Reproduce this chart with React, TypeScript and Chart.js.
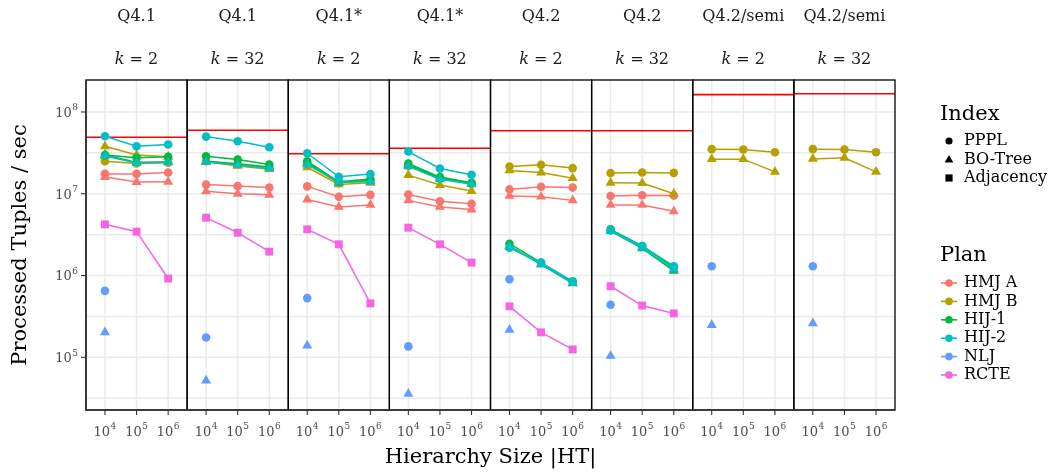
import React, { useEffect, useRef } from "react";
import { Chart, registerables } from "chart.js";
Chart.register(...registerables);

// ---- data ----
const facetQuery = ["Q4.1", "Q4.1", "Q4.1*", "Q4.1*", "Q4.2", "Q4.2", "Q4.2/semi", "Q4.2/semi"];
const facetK = ["2", "32", "2", "32", "2", "32", "2", "32"];
const sizeExponents = ["4", "5", "6"];
const yTickExponents = ["5", "6", "7", "8"];
const baseline = [4.9e7, 5.97e7, 3.08e7, 3.6e7, 5.9e7, 5.9e7, 1.63e8, 1.67e8];

const N = null;
const hmjA_PPPL = [1.75e7, 1.75e7, 1.82e7, 1.3e7, 1.24e7, 1.19e7, 1.23e7, 9.2e6, 9.7e6, 9.8e6, 8.1e6, 7.55e6, 1.13e7, 1.22e7, 1.19e7, 9.4e6, 9.6e6, 9.5e6, N, N, N, N, N, N];
const hmjA_BO = [1.6e7, 1.39e7, 1.4e7, 1.07e7, 1.0e7, 9.7e6, 8.5e6, 6.9e6, 7.3e6, 8.3e6, 6.9e6, 6.4e6, 9.4e6, 9.2e6, 8.3e6, 7.3e6, 7.3e6, 6.1e6, N, N, N, N, N, N];
const hmjB_PPPL = [2.5e7, 2.34e7, 2.39e7, 2.5e7, 2.28e7, 2.08e7, 2.32e7, 1.35e7, 1.47e7, 2.19e7, 1.54e7, 1.32e7, 2.15e7, 2.26e7, 2.06e7, 1.79e7, 1.82e7, 1.8e7, 3.51e7, 3.47e7, 3.22e7, 3.51e7, 3.47e7, 3.22e7];
const hmjB_BO = [3.81e7, 2.97e7, 2.83e7, 2.46e7, 2.19e7, 2.0e7, 2.11e7, 1.3e7, 1.36e7, 1.69e7, 1.28e7, 1.08e7, 1.93e7, 1.82e7, 1.55e7, 1.36e7, 1.35e7, 1.0e7, 2.65e7, 2.65e7, 1.85e7, 2.67e7, 2.75e7, 1.85e7];
const hij1_PPPL = [2.97e7, 2.75e7, 2.83e7, 2.88e7, 2.62e7, 2.28e7, 2.5e7, 1.4e7, 1.52e7, 2.34e7, 1.6e7, 1.36e7, 2.45e6, 1.44e6, 8.4e5, 3.67e6, 2.3e6, 1.25e6, N, N, N, N, N, N];
const hij1_BO = [3.0e7, 2.42e7, 2.45e7, 2.5e7, 2.32e7, 2.12e7, 2.39e7, 1.37e7, 1.43e7, 2.24e7, 1.57e7, 1.32e7, 2.3e6, 1.37e6, 8.0e5, 3.5e6, 2.15e6, 1.14e6, N, N, N, N, N, N];
const hij2_PPPL = [5.05e7, 3.81e7, 4.0e7, 5.0e7, 4.39e7, 3.7e7, 3.13e7, 1.61e7, 1.74e7, 3.28e7, 2.04e7, 1.71e7, 2.19e6, 1.43e6, 8.5e5, 3.57e6, 2.3e6, 1.3e6, N, N, N, N, N, N];
const hij2_BO = [2.9e7, 2.38e7, 2.42e7, 2.45e7, 2.25e7, 2.05e7, 2.28e7, 1.4e7, 1.4e7, 2.17e7, 1.5e7, 1.32e7, 2.24e6, 1.37e6, 8.1e5, 3.5e6, 2.19e6, 1.19e6, N, N, N, N, N, N];
const nlj_PPPL = [6.5e5, N, N, 1.75e5, N, N, 5.3e5, N, N, 1.36e5, N, N, 9.0e5, N, N, 4.39e5, N, N, 1.3e6, N, N, 1.3e6, N, N];
const nlj_BO = [2.02e5, N, N, 5.2e4, N, N, 1.39e5, N, N, 3.57e4, N, N, 2.17e5, N, N, 1.04e5, N, N, 2.48e5, N, N, 2.6e5, N, N];
const rcte_Adj = [4.23e6, 3.44e6, 9.2e5, 5.1e6, 3.34e6, 1.96e6, 3.67e6, 2.41e6, 4.56e5, 3.85e6, 2.41e6, 1.44e6, 4.2e5, 2.02e5, 1.25e5, 7.4e5, 4.3e5, 3.44e5, N, N, N, N, N, N];

const planNames = ["HMJ A", "HMJ B", "HIJ-1", "HIJ-2", "NLJ", "RCTE"];
const planColors = ["#F8766D", "#B79F00", "#00BA38", "#00BFC4", "#619CFF", "#F564E3"];
const indexNames = ["PPPL", "BO-Tree", "Adjacency"];
const indexStyles = ["circle", "triangle", "rect"];
const indexRadius = [4.3, 5.8, 5.6];

const series = [
  { plan: 0, index: 0, values: hmjA_PPPL },
  { plan: 0, index: 1, values: hmjA_BO },
  { plan: 1, index: 0, values: hmjB_PPPL },
  { plan: 1, index: 1, values: hmjB_BO },
  { plan: 2, index: 0, values: hij1_PPPL },
  { plan: 2, index: 1, values: hij1_BO },
  { plan: 3, index: 0, values: hij2_PPPL },
  { plan: 3, index: 1, values: hij2_BO },
  { plan: 4, index: 0, values: nlj_PPPL },
  { plan: 4, index: 1, values: nlj_BO },
  { plan: 5, index: 2, values: rcte_Adj },
];

// ---- layout ----
const W = 1051, H = 475;
const AREA = { left: 86, right: 895, top: 80, bottom: 410 };
const FACET_W = 3.2; // units per facet (3 categories + expansion)
const FONT = '"DejaVu Serif", "Liberation Serif", serif';

function catX(f: number, j: number) {
  return f * FACET_W + 0.6 + j;
}

function drawPow(ctx: CanvasRenderingContext2D, x: number, y: number, exp: string, align: "center" | "right", bs: number, ss: number) {
  ctx.font = `${bs}px ${FONT}`;
  const wb = ctx.measureText("10").width;
  ctx.font = `${ss}px ${FONT}`;
  const ws = ctx.measureText(exp).width;
  const total = wb + ws + 0.5;
  const left = align === "center" ? x - total / 2 : x - total;
  ctx.textAlign = "left";
  ctx.textBaseline = "middle";
  ctx.font = `${bs}px ${FONT}`;
  ctx.fillText("10", left, y + 1.5);
  ctx.font = `${ss}px ${FONT}`;
  ctx.fillText(exp, left + wb + 0.5, y - 4);
}

function drawMarker(ctx: CanvasRenderingContext2D, style: string, x: number, y: number, r: number, color: string) {
  ctx.save();
  ctx.fillStyle = color;
  ctx.beginPath();
  if (style === "circle") {
    ctx.arc(x, y, r, 0, Math.PI * 2);
  } else if (style === "triangle") {
    ctx.moveTo(x, y - r);
    ctx.lineTo(x + r * 0.866, y + r * 0.5);
    ctx.lineTo(x - r * 0.866, y + r * 0.5);
    ctx.closePath();
  } else {
    const s = r * 0.75;
    ctx.rect(x - s, y - s, 2 * s, 2 * s);
  }
  ctx.fill();
  ctx.restore();
}

const facetPlugin = {
  id: "facetPlugin",
  beforeDatasetsDraw(chart: any) {
    const ctx: CanvasRenderingContext2D = chart.ctx;
    const xs = chart.scales.x, ys = chart.scales.y;
    const a = chart.chartArea;
    ctx.save();
    ctx.strokeStyle = "#EBEBEB";
    ctx.lineWidth = 1.5;
    for (let e = 4; e <= 8.5; e += 0.5) {
      const y = ys.getPixelForValue(Math.pow(10, e));
      if (y < a.top || y > a.bottom) continue;
      ctx.beginPath();
      ctx.moveTo(a.left, y);
      ctx.lineTo(a.right, y);
      ctx.stroke();
    }
    for (let f = 0; f < 8; f++) {
      for (let j = 0; j < 3; j++) {
        const x = xs.getPixelForValue(catX(f, j));
        ctx.beginPath();
        ctx.moveTo(x, a.top);
        ctx.lineTo(x, a.bottom);
        ctx.stroke();
      }
    }
    ctx.restore();
  },
  afterDatasetsDraw(chart: any) {
    const ctx: CanvasRenderingContext2D = chart.ctx;
    const xs = chart.scales.x, ys = chart.scales.y;
    const a = chart.chartArea;
    ctx.save();
    // panel borders
    ctx.strokeStyle = "#000";
    ctx.lineWidth = 1.3;
    for (let f = 0; f < 8; f++) {
      const l = xs.getPixelForValue(f * FACET_W);
      const r = xs.getPixelForValue((f + 1) * FACET_W);
      ctx.strokeRect(l, a.top, r - l, a.bottom - a.top);
    }
    // axis lines
    ctx.strokeStyle = "#333";
    ctx.lineWidth = 1.6;
    ctx.beginPath();
    ctx.moveTo(a.left, a.top);
    ctx.lineTo(a.left, a.bottom);
    ctx.lineTo(a.right, a.bottom);
    ctx.stroke();
    // ticks
    ctx.lineWidth = 1.1;
    ctx.strokeStyle = "#333";
    ctx.fillStyle = "#4D4D4D";
    for (const e of yTickExponents) {
      const y = ys.getPixelForValue(Math.pow(10, Number(e)));
      ctx.beginPath();
      ctx.moveTo(a.left - 5, y);
      ctx.lineTo(a.left, y);
      ctx.stroke();
      drawPow(ctx, a.left - 8, y, e, "right", 13, 9);
    }
    for (let f = 0; f < 8; f++) {
      for (let j = 0; j < 3; j++) {
        const x = xs.getPixelForValue(catX(f, j));
        ctx.beginPath();
        ctx.moveTo(x, a.bottom);
        ctx.lineTo(x, a.bottom + 5);
        ctx.stroke();
        drawPow(ctx, x, 431, sizeExponents[j], "center", 13, 9);
      }
    }
    // strips
    ctx.fillStyle = "#1A1A1A";
    ctx.textBaseline = "middle";
    for (let f = 0; f < 8; f++) {
      const cx = (xs.getPixelForValue(f * FACET_W) + xs.getPixelForValue((f + 1) * FACET_W)) / 2;
      ctx.textAlign = "center";
      ctx.font = `16px ${FONT}`;
      ctx.fillText(facetQuery[f], cx, 17);
      ctx.font = `italic 16px ${FONT}`;
      const wk = ctx.measureText("k").width;
      ctx.font = `16px ${FONT}`;
      const rest = " = " + facetK[f];
      const wr = ctx.measureText(rest).width;
      const left = cx - (wk + wr) / 2;
      ctx.textAlign = "left";
      ctx.font = `italic 16px ${FONT}`;
      ctx.fillText("k", left, 60);
      ctx.font = `16px ${FONT}`;
      ctx.fillText(rest, left + wk, 60);
    }
    // axis titles
    ctx.fillStyle = "#000";
    ctx.font = `21px ${FONT}`;
    ctx.textAlign = "center";
    ctx.textBaseline = "middle";
    ctx.fillText("Hierarchy Size |HT|", (a.left + a.right) / 2, 458);
    ctx.save();
    ctx.translate(21, (a.top + a.bottom) / 2);
    ctx.rotate(-Math.PI / 2);
    ctx.fillText("Processed Tuples / sec", 0, 0);
    ctx.restore();
    // legends
    ctx.textAlign = "left";
    ctx.fillStyle = "#000";
    ctx.font = `21px ${FONT}`;
    ctx.fillText("Index", 940, 115);
    ctx.font = `16px ${FONT}`;
    const idxY = [141, 160, 178];
    for (let i = 0; i < 3; i++) {
      ctx.fillStyle = "#000";
      ctx.fillText(indexNames[i], 964, idxY[i]);
      const r = i === 0 ? 3.6 : i === 1 ? 5 : 4.8;
      drawMarker(ctx, indexStyles[i], 949, idxY[i], r, "#000");
    }
    ctx.font = `21px ${FONT}`;
    ctx.fillStyle = "#000";
    ctx.fillText("Plan", 940, 256);
    ctx.font = `16px ${FONT}`;
    for (let p = 0; p < 6; p++) {
      const y = 283 + p * 18.4;
      ctx.strokeStyle = planColors[p];
      ctx.lineWidth = 1.6;
      ctx.beginPath();
      ctx.moveTo(941, y);
      ctx.lineTo(957, y);
      ctx.stroke();
      drawMarker(ctx, "circle", 949, y, 3.8, planColors[p]);
      ctx.fillStyle = "#000";
      ctx.fillText(planNames[p], 964, y);
    }
    ctx.restore();
  },
};

function buildPoints(values: (number | null)[]) {
  const pts: { x: number; y: number | null }[] = [];
  for (let f = 0; f < 8; f++) {
    for (let j = 0; j < 3; j++) {
      pts.push({ x: catX(f, j), y: values[f * 3 + j] });
    }
    pts.push({ x: (f + 1) * FACET_W - 0.01, y: null });
  }
  return pts;
}

function buildBaseline() {
  const pts: { x: number; y: number | null }[] = [];
  for (let f = 0; f < 8; f++) {
    pts.push({ x: f * FACET_W, y: baseline[f] });
    pts.push({ x: (f + 1) * FACET_W, y: baseline[f] });
    pts.push({ x: (f + 1) * FACET_W + 0.001, y: null });
  }
  return pts;
}

export default function App() {
  const ref = useRef<HTMLCanvasElement>(null);
  useEffect(() => {
    if (!ref.current) return;
    const datasets: any[] = series.map((s) => ({
      label: planNames[s.plan] + " " + indexNames[s.index],
      data: buildPoints(s.values),
      borderColor: planColors[s.plan],
      backgroundColor: planColors[s.plan],
      pointBackgroundColor: planColors[s.plan],
      pointBorderWidth: 0,
      pointStyle: indexStyles[s.index],
      pointRadius: indexRadius[s.index],
      borderWidth: 1.5,
      tension: 0,
      spanGaps: false,
      order: 10 - s.plan,
    }));
    datasets.push({
      label: "baseline",
      data: buildBaseline(),
      borderColor: "#FF0000",
      borderWidth: 1.6,
      pointRadius: 0,
      spanGaps: false,
      order: 20,
    });
    const chart = new Chart(ref.current, {
      type: "line",
      data: { datasets },
      options: {
        animation: false,
        responsive: true,
        maintainAspectRatio: false,
        events: [],
        layout: { padding: { left: AREA.left, right: W - AREA.right, top: AREA.top, bottom: H - AREA.bottom } },
        scales: {
          x: { type: "linear", min: 0, max: 8 * FACET_W, display: false },
          y: { type: "logarithmic", min: 22700, max: 2.46e8, display: false },
        },
        plugins: { legend: { display: false }, tooltip: { enabled: false } },
      },
      plugins: [facetPlugin],
    });
    return () => chart.destroy();
  }, []);
  return (
    <div style={{ position: "fixed", left: 0, top: 0, width: W, height: H, background: "#fff" }}>
      <canvas ref={ref} />
    </div>
  );
}
